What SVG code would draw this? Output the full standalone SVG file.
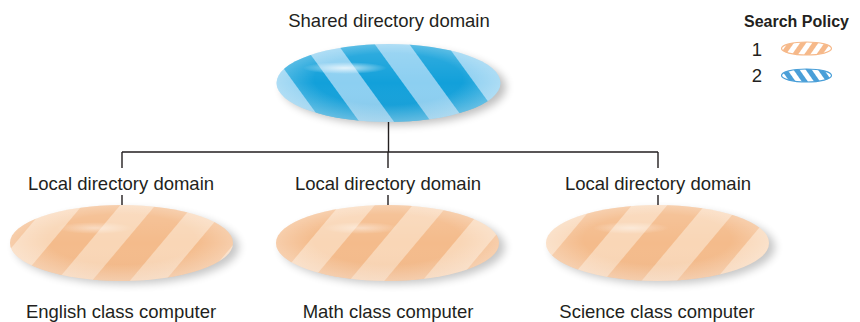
<svg xmlns="http://www.w3.org/2000/svg" width="860" height="322" viewBox="0 0 860 322">
<style>
.t{font-family:"Liberation Sans",Arial,sans-serif;font-size:18.5px;fill:#231f20;text-anchor:middle}
.tb{font-family:"Liberation Sans",Arial,sans-serif;font-size:16px;font-weight:bold;fill:#231f20}
.c{fill:none;stroke:#231f20;stroke-width:1.4}
</style>
<defs>
<pattern id="pb" width="58" height="58" patternUnits="userSpaceOnUse" patternTransform="translate(300 40) rotate(-36)">
<rect width="58" height="58" fill="#12a0da"/><rect width="28" height="58" fill="#8ccff1"/>
</pattern>
<pattern id="po" width="56" height="56" patternUnits="userSpaceOnUse" patternTransform="rotate(40)">
<rect width="56" height="56" fill="#f4bb8b"/><rect width="27" height="56" fill="#f9d6b6"/>
</pattern>
<pattern id="lo" width="10" height="10" patternUnits="userSpaceOnUse" patternTransform="rotate(35)">
<rect width="10" height="10" fill="#fff"/><rect width="5" height="10" fill="#f6b98a"/>
</pattern>
<pattern id="lb" width="10" height="10" patternUnits="userSpaceOnUse" patternTransform="rotate(-35)">
<rect width="10" height="10" fill="#fff"/><rect width="5" height="10" fill="#4a9fd8"/>
</pattern>
<radialGradient id="shade" cx="0.5" cy="0.45" r="0.55">
<stop offset="0.6" stop-color="#fff" stop-opacity="0"/>
<stop offset="1" stop-color="#fff" stop-opacity="0.35"/>
</radialGradient>
<linearGradient id="vb" x1="0" y1="0" x2="0" y2="1">
<stop offset="0" stop-color="#fff" stop-opacity="0.15"/>
<stop offset="0.5" stop-color="#fff" stop-opacity="0"/>
<stop offset="1" stop-color="#005a90" stop-opacity="0.12"/>
</linearGradient>
<linearGradient id="vo" x1="0" y1="0" x2="0" y2="1">
<stop offset="0" stop-color="#fff" stop-opacity="0.15"/>
<stop offset="0.5" stop-color="#fff" stop-opacity="0"/>
<stop offset="1" stop-color="#c06020" stop-opacity="0.1"/>
</linearGradient>
<radialGradient id="hl" cx="0.5" cy="0.5" r="0.5">
<stop offset="0" stop-color="#fff" stop-opacity="0.75"/>
<stop offset="1" stop-color="#fff" stop-opacity="0"/>
</radialGradient>
<filter id="sh" x="-20%" y="-40%" width="140%" height="180%">
<feGaussianBlur stdDeviation="4"/>
</filter>
</defs>

<g id="connectors">
<path class="c" d="M388.5 122 V152 M122 152 H658 M122 152 V168 M388 152 V168 M658 152 V168 M122 195 V205 M388 195 V205 M658 195 V205"/>
</g>

<g id="shared">
<text class="t" x="389" y="27">Shared directory domain</text>
<ellipse cx="394" cy="87" rx="112" ry="38" fill="#000" opacity="0.25" filter="url(#sh)"/>
<ellipse cx="388.5" cy="83" rx="112" ry="39" fill="url(#pb)"/>
<ellipse cx="388.5" cy="83" rx="112" ry="39" fill="url(#vb)"/>
<ellipse cx="388.5" cy="83" rx="112" ry="39" fill="url(#shade)"/>
<ellipse cx="345" cy="68" rx="42" ry="6" fill="url(#hl)"/>
</g>

<g id="english">
<text class="t" x="121" y="190">Local directory domain</text>
<ellipse cx="127" cy="247" rx="112" ry="37" fill="#000" opacity="0.22" filter="url(#sh)"/>
<ellipse cx="121.5" cy="243" rx="111.5" ry="38" fill="url(#po)"/>
<ellipse cx="121.5" cy="243" rx="111.5" ry="38" fill="url(#vo)"/>
<ellipse cx="121.5" cy="243" rx="111.5" ry="38" fill="url(#shade)"/>
<ellipse cx="95" cy="228" rx="38" ry="6" fill="url(#hl)" opacity="0.6"/>
<text class="t" x="121" y="318">English class computer</text>
</g>

<g id="math">
<text class="t" x="388" y="190">Local directory domain</text>
<ellipse cx="393" cy="247" rx="112" ry="37" fill="#000" opacity="0.22" filter="url(#sh)"/>
<ellipse cx="387.5" cy="243" rx="111.5" ry="38" fill="url(#po)"/>
<ellipse cx="387.5" cy="243" rx="111.5" ry="38" fill="url(#vo)"/>
<ellipse cx="387.5" cy="243" rx="111.5" ry="38" fill="url(#shade)"/>
<ellipse cx="361" cy="228" rx="38" ry="6" fill="url(#hl)" opacity="0.6"/>
<text class="t" x="388" y="318">Math class computer</text>
</g>

<g id="science">
<text class="t" x="658" y="190">Local directory domain</text>
<ellipse cx="663" cy="247" rx="112" ry="37" fill="#000" opacity="0.22" filter="url(#sh)"/>
<ellipse cx="657.5" cy="243" rx="111.5" ry="38" fill="url(#po)"/>
<ellipse cx="657.5" cy="243" rx="111.5" ry="38" fill="url(#vo)"/>
<ellipse cx="657.5" cy="243" rx="111.5" ry="38" fill="url(#shade)"/>
<ellipse cx="631" cy="228" rx="38" ry="6" fill="url(#hl)" opacity="0.6"/>
<text class="t" x="657" y="318">Science class computer</text>
</g>

<g id="legend">
<text class="tb" x="744" y="27">Search Policy</text>
<text class="t" x="757" y="56">1</text>
<ellipse cx="806.5" cy="48.5" rx="25" ry="6.5" fill="url(#lo)" stroke="#f6b98a" stroke-width="1.2"/>
<text class="t" x="757" y="82">2</text>
<ellipse cx="806.5" cy="75.5" rx="25" ry="6.5" fill="url(#lb)" stroke="#4a9fd8" stroke-width="1.2"/>
</g>
</svg>
